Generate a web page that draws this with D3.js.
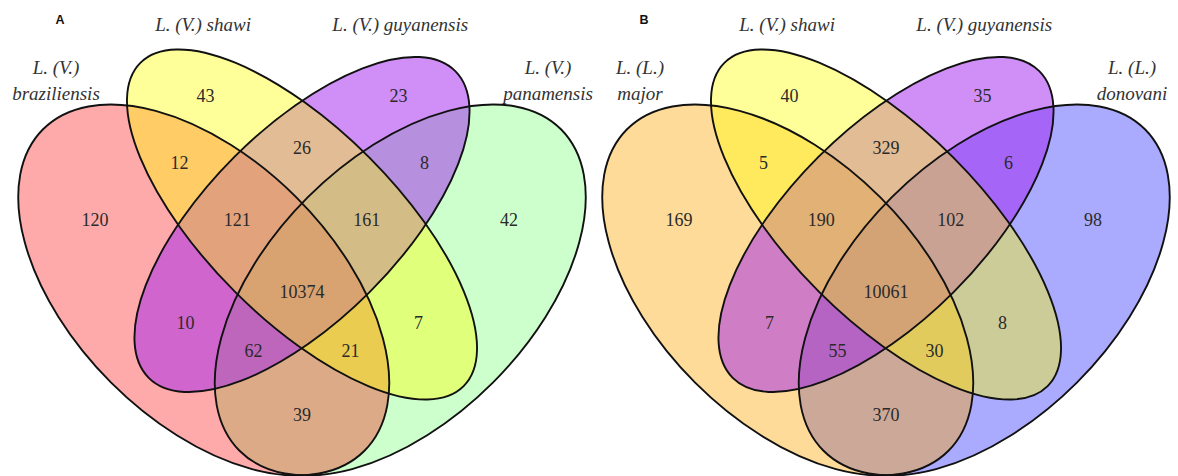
<!DOCTYPE html>
<html>
<head>
<meta charset="utf-8">
<script src="https://cdn.jsdelivr.net/npm/d3@7"></script>
<style>
  html, body { margin: 0; padding: 0; background: #ffffff; }
  svg { display: block; }
</style>
</head>
<body>
<svg id="chart" width="1178" height="476"></svg>
<script>
// Region codes: one flag per set (set1 set2 set3 set4).
const regionCodes = ["1000", "0100", "0010", "0001",
                     "1100", "0110", "0011",
                     "1110", "0111", "1111",
                     "1010", "1011", "1101", "0101",
                     "1001"];

// Gene counts per region, same order as regionCodes.
const countsA = [120, 43, 23, 42, 12, 26, 8, 121, 161, 10374, 10, 62, 21, 7, 39];
const countsB = [169, 40, 35, 98, 5, 329, 6, 190, 102, 10061, 7, 55, 30, 8, 370];

// Set names (one or two lines each).
const setNamesA = [["L. (V.)", "braziliensis"], ["L. (V.) shawi"], ["L. (V.) guyanensis"], ["L. (V.)", "panamensis"]];
const setNamesB = [["L. (L.)", "major"], ["L. (V.) shawi"], ["L. (V.) guyanensis"], ["L. (L.)", "donovani"]];

const panelTitles = ["A", "B"];

// ---- layout (unit square, y up) ----
const ellipseShapes = [
  { cx: 0.35, cy: 0.47, a: 0.347, b: 0.200, rot: 45 },
  { cx: 0.50, cy: 0.57, a: 0.349, b: 0.145, rot: 45 },
  { cx: 0.50, cy: 0.57, a: 0.331, b: 0.146, rot: -45 },
  { cx: 0.65, cy: 0.47, a: 0.347, b: 0.200, rot: -45 }
];

// Label anchor for each region code.
const regionAnchors = {
  "1000": [0.184, 0.577], "0100": [0.3525, 0.766], "0010": [0.6475, 0.766], "0001": [0.816, 0.577],
  "1100": [0.313, 0.665], "0110": [0.500, 0.687], "0011": [0.687, 0.665],
  "1110": [0.401, 0.577], "0111": [0.599, 0.577], "1111": [0.500, 0.467],
  "1010": [0.322, 0.420], "1011": [0.426, 0.378], "1101": [0.574, 0.378], "0101": [0.678, 0.420],
  "1001": [0.500, 0.279]
};

// Set label anchors: x, then one baseline per line.
const setLabelAnchors = [
  { u: 0.1244, v: [0.7998, 0.7600] },
  { u: 0.3490, v: [0.8654] },
  { u: 0.6500, v: [0.8654] },
  { u: 0.8756, v: [0.7998, 0.7600] }
];
const titleAnchor = { u: 0.1305, v: 0.876 };

// ---- styles ----
const palettes = [
  { colors: ["#ff0000", "#ffff00", "#a020f0", "#00ff00"], alphas: [1 / 3, 0.4, 0.5, 0.2] },
  { colors: ["#ffa500", "#ffff00", "#a020f0", "#0000ff"], alphas: [0.4, 0.4, 0.5, 1 / 3] }
];
const fillOrder = [3, 0, 2, 1];

const unitPx = 655;
const panelShift = 584;

const svg = d3.select("#chart");

const panels = [
  { counts: countsA, names: setNamesA, title: panelTitles[0], style: palettes[0] },
  { counts: countsB, names: setNamesB, title: panelTitles[1], style: palettes[1] }
];

panels.forEach((panel, i) => {
  const cxPx = 302 + i * panelShift;
  const x = d3.scaleLinear().domain([0, 1]).range([cxPx - 0.5 * unitPx, cxPx + 0.5 * unitPx]);
  const y = d3.scaleLinear().domain([0, 1]).range([290 + 0.47 * unitPx, 290 - 0.53 * unitPx]);
  const len = d => x(d) - x(0);

  const g = svg.append("g").attr("class", "panel");

  // translucent fills
  g.append("g").selectAll("ellipse")
    .data(fillOrder.map(k => ({ k, e: ellipseShapes[k] })))
    .join("ellipse")
    .attr("cx", d => x(d.e.cx))
    .attr("cy", d => y(d.e.cy))
    .attr("rx", d => len(d.e.a))
    .attr("ry", d => len(d.e.b))
    .attr("transform", d => `rotate(${d.e.rot} ${x(d.e.cx)} ${y(d.e.cy)})`)
    .attr("fill", d => panel.style.colors[d.k])
    .attr("fill-opacity", d => panel.style.alphas[d.k])
    .attr("stroke", "none");

  // outlines on top
  g.append("g").selectAll("ellipse")
    .data(ellipseShapes)
    .join("ellipse")
    .attr("cx", d => x(d.cx))
    .attr("cy", d => y(d.cy))
    .attr("rx", d => len(d.a))
    .attr("ry", d => len(d.b))
    .attr("transform", d => `rotate(${d.rot} ${x(d.cx)} ${y(d.cy)})`)
    .attr("fill", "none")
    .attr("stroke", "#111")
    .attr("stroke-width", 1.9);

  // region counts
  g.append("g").selectAll("text")
    .data(regionCodes.map((code, j) => ({ code, n: panel.counts[j] })))
    .join("text")
    .attr("x", d => x(regionAnchors[d.code][0]))
    .attr("y", d => y(regionAnchors[d.code][1]))
    .attr("dy", "0.35em")
    .attr("text-anchor", "middle")
    .attr("font-family", "'Liberation Serif', 'Times New Roman', serif")
    .attr("font-size", 18)
    .attr("fill", "#2a2a2a")
    .text(d => d.n);

  // set names
  panel.names.forEach((lines, s) => {
    const a = setLabelAnchors[s];
    lines.forEach((line, li) => {
      g.append("text")
        .attr("x", x(a.u))
        .attr("y", y(a.v[li]))
        .attr("text-anchor", "middle")
        .attr("font-family", "'Liberation Serif', 'Times New Roman', serif")
        .attr("font-style", "italic")
        .attr("font-size", 19)
        .attr("fill", "#333")
        .text(line);
    });
  });

  // panel letter
  g.append("text")
    .attr("x", x(titleAnchor.u))
    .attr("y", y(titleAnchor.v))
    .attr("text-anchor", "middle")
    .attr("font-family", "'Liberation Sans', Arial, sans-serif")
    .attr("font-weight", "bold")
    .attr("font-size", 12.5)
    .attr("fill", "#111")
    .text(panel.title);
});
</script>
</body>
</html>
